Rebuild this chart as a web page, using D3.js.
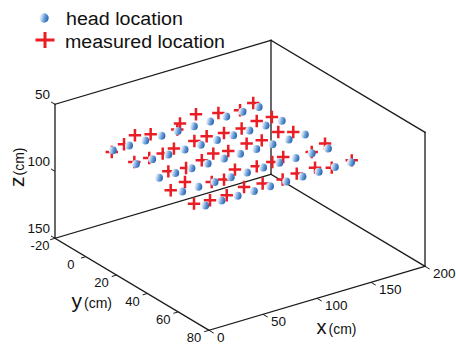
<!DOCTYPE html>
<html><head><meta charset="utf-8">
<script src="https://cdn.jsdelivr.net/npm/d3@7"></script>
<style>body{margin:0;background:#fff}svg{display:block;font-family:"Liberation Sans",Arial,sans-serif}</style>
</head><body><svg id="c" width="456" height="345"></svg>
<script>
// ---- data (cm) ----
const headX = [25, 40, 55, 70, 85, 100, 115, 130, 145, 160];
const headY = [0, 15, 30, 45, 60];
const headZ = 76.5;
const measX = [22.5, 38.1, 54.2, 64.9, 86.3, 94.2, 113.7, 128.9, 145.1, 160.9,
               26.1, 39.5, 52.4, 64.5, 85.0, 97.5, 111.7, 127.2, 144.3, 157.9,
               37.5, 51.9, 69.6, 83.7, 95.7, 114.7, 127.4, 146.3, 155.6,
               19.3, 36.8, 53.3, 63.4, 80.5, 97.4, 111.5, 123.5, 146.3, 163.2,
               19.9, 33.3, 48.8, 68.1, 83.2, 99.7, 114.6, 132.1, 142.5, 162.4];
const measY = [1.1, -1.9, -6.1, -3.4, -1.1, -4.9, -8.2, -4.3, -1.6, -4.1,
               13.2, 13.5, 13.2, 12.0, 10.9, 10.1, 11.4, 12.0, 9.8, 10.1,
               27.3, 28.7, 26.5, 24.1, 25.4, 24.0, 24.9, 22.4, 25.6,
               41.6, 38.6, 44.4, 45.3, 40.4, 42.7, 42.9, 41.6, 44.1, 40.9,
               56.3, 57.3, 57.3, 55.0, 56.5, 57.9, 56.6, 56.2, 59.8, 58.8];
const measZ = 76.5;
const xTicks = [0, 50, 100, 150, 200];
const yTicks = [-20, 0, 20, 40, 60, 80];
const zTicks = [50, 100, 150];
const legendLabels = ["head location", "measured location"];
const xDomain = [0, 200], yDomain = [-20, 80], zDomain = [50, 150];

// ---- projection via scales ----
const ox = 55, oy = 238.3;
const xToSX = d3.scaleLinear().domain(xDomain).range([0, 216]);
const xToSY = d3.scaleLinear().domain(xDomain).range([0, -64]);
const yToSX = d3.scaleLinear().domain(yDomain).range([0, 154]);
const yToSY = d3.scaleLinear().domain(yDomain).range([0, 92]);
const zToSY = d3.scaleLinear().domain([150, 50]).range([0, -134]);
function P(x, y, z) { return [ox + xToSX(x) + yToSX(y), oy + xToSY(x) + yToSY(y) + zToSY(z)]; }

const svg = d3.select("#c");
const defs = svg.append("defs");
const g = defs.append("linearGradient").attr("id", "ball").attr("x1", 0).attr("x2", 1).attr("y1", 0.1).attr("y2", 0.35);
[[0, "#ffffff"], [0.28, "#cddff2"], [0.62, "#6a9dd8"], [1, "#2a66b0"]].forEach(s => g.append("stop").attr("offset", s[0]).attr("stop-color", s[1]));

const ink = "#1a1a1a";
const [x0, x1] = xDomain, [y0, y1] = yDomain, [zt, zb] = zDomain;
const edges = [
  [[x0, y0, zb], [x0, y0, zt]], [[x1, y0, zb], [x1, y0, zt]], [[x1, y1, zb], [x1, y1, zt]],
  [[x0, y0, zt], [x1, y0, zt]], [[x1, y0, zt], [x1, y1, zt]],
  [[x0, y0, zb], [x1, y0, zb]], [[x1, y0, zb], [x1, y1, zb]],
  [[x0, y0, zb], [x0, y1, zb]], [[x0, y1, zb], [x1, y1, zb]]
];
const line = d3.line();
svg.append("g").selectAll("path").data(edges).join("path")
  .attr("d", e => line([P(...e[0]), P(...e[1])]))
  .attr("stroke", ink).attr("stroke-width", 1.3).attr("fill", "none").attr("stroke-linecap", "square");

// z ticks
const zg = svg.append("g");
zTicks.forEach(t => {
  const p = P(x0, y0, t);
  zg.append("line").attr("x1", p[0]).attr("y1", p[1]).attr("x2", p[0] - 4).attr("y2", p[1] - 2.4).attr("stroke", ink).attr("stroke-width", 1);
  zg.append("text").attr("x", p[0] - 5).attr("y", p[1] - 9.5).attr("text-anchor", "end").attr("dominant-baseline", "central")
    .attr("font-size", 13.5).attr("fill", "#111").text(t);
});
// y ticks
const yg = svg.append("g");
yTicks.forEach(t => {
  const p = P(x0, t, zb);
  yg.append("line").attr("x1", p[0]).attr("y1", p[1]).attr("x2", p[0] - 4.8).attr("y2", p[1] + 1.4).attr("stroke", ink).attr("stroke-width", 1);
  yg.append("text").attr("x", p[0] - 15).attr("y", p[1] + 7.5).attr("text-anchor", "middle").attr("dominant-baseline", "central")
    .attr("font-size", 13).attr("fill", "#111").text(t);
});
// x ticks
const xg = svg.append("g");
xTicks.forEach(t => {
  const p = P(t, y1, zb);
  xg.append("line").attr("x1", p[0]).attr("y1", p[1]).attr("x2", p[0] + 4.7).attr("y2", p[1] + 2.8).attr("stroke", ink).attr("stroke-width", 1);
  xg.append("text").attr("x", p[0] + 8).attr("y", p[1] + 7.5).attr("text-anchor", "start").attr("dominant-baseline", "central")
    .attr("font-size", 13.5).attr("fill", "#111").text(t);
});

// axis titles
const xt = svg.append("text").attr("x", 316.5).attr("y", 334).attr("fill", "#111");
xt.append("tspan").attr("font-size", 20).text("x");
xt.append("tspan").attr("font-size", 14).attr("dx", 2).text("(cm)");
const yt = svg.append("text").attr("x", 71.5).attr("y", 308).attr("fill", "#111");
yt.append("tspan").attr("font-size", 21).text("y");
yt.append("tspan").attr("font-size", 14).attr("dx", 2).text("(cm)");
const zt2 = svg.append("text").attr("transform", "translate(24,187) rotate(-90)").attr("fill", "#111");
zt2.append("tspan").attr("font-size", 21).text("z");
zt2.append("tspan").attr("font-size", 14).attr("dx", 1).text("(cm)");

// measured locations (plus)
const red = "#ea1d25";
const meas = measX.map((x, i) => ({ x, y: measY[i], z: measZ }));
svg.append("g").selectAll("path").data(meas).join("path")
  .attr("transform", d => `translate(${P(d.x, d.y, d.z)})`)
  .attr("d", "M-6.2,0H6.2M0,-6.2V6.2").attr("stroke", red).attr("stroke-width", 2.5).attr("fill", "none");

// head locations (balls)
const heads = headY.flatMap(y => headX.map(x => ({ x, y, z: headZ })));
svg.append("g").selectAll("circle").data(heads).join("circle")
  .attr("cx", d => P(d.x, d.y, d.z)[0]).attr("cy", d => P(d.x, d.y, d.z)[1])
  .attr("r", 4).attr("fill", "url(#ball)");

// legend
svg.append("circle").attr("cx", 44).attr("cy", 18).attr("r", 4.7).attr("fill", "url(#ball)");
svg.append("path").attr("transform", "translate(45,40)").attr("d", "M-9.5,0H9.5M0,-8V8").attr("stroke", red).attr("stroke-width", 3).attr("fill", "none");
svg.append("text").attr("x", 66).attr("y", 24.5).attr("font-size", 18).attr("fill", "#111").attr("textLength", 117).attr("lengthAdjust", "spacingAndGlyphs").text(legendLabels[0]);
svg.append("text").attr("x", 65).attr("y", 47.5).attr("font-size", 18).attr("fill", "#111").attr("textLength", 160).attr("lengthAdjust", "spacingAndGlyphs").text(legendLabels[1]);
</script></body></html>
